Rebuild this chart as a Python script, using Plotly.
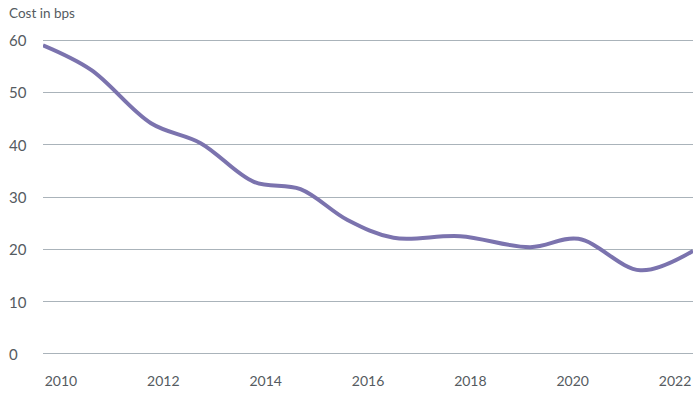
import plotly.graph_objects as go

years = [2009.65, 2010.59, 2011.76, 2012.73, 2013.77, 2014.68, 2015.60, 2016.50, 2017.80, 2019.17, 2020.11, 2021.32, 2022.35]
cost_bps = [59.0, 54.3, 44.1, 40.3, 32.9, 31.5, 25.6, 22.2, 22.5, 20.4, 22.0, 16.0, 19.7]
x_ticks = [2010, 2012, 2014, 2016, 2018, 2020, 2022]
y_ticks = [0, 10, 20, 30, 40, 50, 60]

TEXT = "#555b61"
FONT = "Lato"

fig = go.Figure()
fig.add_trace(go.Scatter(
    x=years, y=cost_bps, mode="lines",
    line=dict(color="#7b73ae", width=4, shape="spline", smoothing=1.0),
    hoverinfo="skip", cliponaxis=False,
))

annotations = [dict(text=str(v), x=-0.0554, xref="paper", y=v, yref="y",
                    xanchor="left", yanchor="middle", showarrow=False,
                    font=dict(family=FONT, size=15, color=TEXT)) for v in y_ticks]
annotations.append(dict(text="Cost in bps", x=-0.0554, xref="paper", y=1.08, yref="paper",
                        xanchor="left", yanchor="middle", showarrow=False,
                        font=dict(family=FONT, size=13.5, color=TEXT)))

fig.update_layout(
    width=699, height=397,
    margin=dict(l=43, r=6, t=38, b=41),
    paper_bgcolor="white", plot_bgcolor="white",
    showlegend=False,
    font=dict(family=FONT, size=14, color=TEXT),
    annotations=annotations,
    xaxis=dict(range=[2009.65, 2022.35], tickvals=x_ticks, ticktext=[str(v) for v in x_ticks],
               showgrid=False, zeroline=False, showline=False,
               ticks="outside", ticklen=12, tickcolor="rgba(0,0,0,0)",
               tickfont=dict(family=FONT, size=14, color=TEXT)),
    yaxis=dict(range=[-0.4, 60.4], tickvals=y_ticks, showticklabels=False,
               showgrid=True, gridcolor="#aab3ba", gridwidth=1.3, zeroline=False, showline=False),
)

fig.write_html("out.html", config={"displayModeBar": False},
               post_script="document.body.style.margin='0';document.body.style.padding='0';")
